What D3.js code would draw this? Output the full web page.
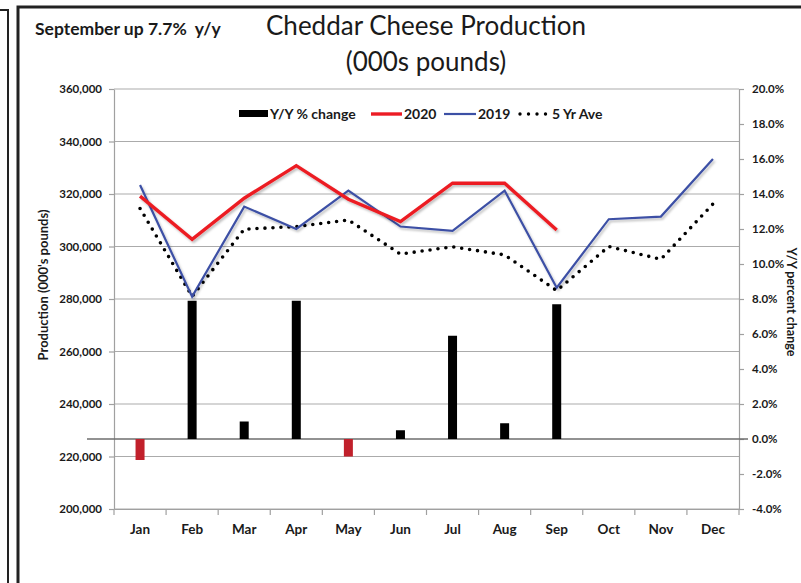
<!DOCTYPE html>
<html>
<head>
<meta charset="utf-8">
<script src="https://cdn.jsdelivr.net/npm/d3@7"></script>
<style>
  body { margin: 0; background: #fff; }
  text { font-family: Lato, 'Open Sans', sans-serif; fill: #1a1a1a; }
  .axis text { font-weight: bold; }
</style>
</head>
<body>
<div class="Chart"></div>
<script>
const months = ['Jan','Feb','Mar','Apr','May','Jun','Jul','Aug','Sep','Oct','Nov','Dec']
const yoyChange = [-1.2, 7.9, 1.0, 7.9, -1.0, 0.5, 5.9, 0.9, 7.7]
const prod2020 = [319200, 302700, 318400, 330800, 318000, 309500, 324100, 324100, 306300]
const prod2019 = [323400, 280900, 315200, 306700, 321300, 307600, 306000, 321300, 284300, 310400, 311400, 333300]
const fiveYrAve = [314500, 281000, 306600, 307600, 310100, 297100, 299900, 296800, 283200, 300000, 295100, 316200]
const leftTicks = [200000, 220000, 240000, 260000, 280000, 300000, 320000, 340000, 360000]
const rightTicks = [-4, -2, 0, 2, 4, 6, 8, 10, 12, 14, 16, 18, 20]

const W = 801, H = 583
const plot = ({left: 114, right: 739, top: 89, bottom: 509})

let svg = d3.select('.Chart').append('svg')
	.attr('width', W)
	.attr('height', H)

let defs = svg.append('defs')
defs.append('filter')
	.attr('id', 'shadow')
	.attr('x', '-10%').attr('y', '-10%').attr('width', '120%').attr('height', '130%')
	.append('feDropShadow')
	.attr('dx', 1.5).attr('dy', 2)
	.attr('stdDeviation', 1.2)
	.attr('flood-color', '#000')
	.attr('flood-opacity', 0.25)

// frame
svg.append('path')
	.attr('d', 'M0,10H8V583')
	.attr('fill', 'none')
	.attr('stroke', '#222')
	.attr('stroke-width', 2)
svg.append('path')
	.attr('d', 'M18,583V7H801')
	.attr('fill', 'none')
	.attr('stroke', '#222')
	.attr('stroke-width', 3)

let xScale = d3.scaleBand()
	.domain(months)
	.range([plot.left, plot.right])

let yLeft = d3.scaleLinear()
	.domain([200000, 360000])
	.range([plot.bottom, plot.top])

let yRight = d3.scaleLinear()
	.domain([-4, 20])
	.range([plot.bottom, plot.top])

// gridlines
svg.append('g')
	.selectAll('line')
	.data(leftTicks)
	.join('line')
	.attr('x1', plot.left)
	.attr('x2', plot.right)
	.attr('y1', d => yLeft(d))
	.attr('y2', d => yLeft(d))
	.attr('stroke', '#ababab')
	.attr('stroke-width', 1.2)

// axes
let leftAxis = svg.append('g')
	.attr('class', 'axis')
	.attr('transform', `translate(${plot.left},0)`)
	.call(d3.axisLeft(yLeft).tickValues(leftTicks).tickFormat(d3.format(',')).tickSize(5).tickPadding(7).tickSizeOuter(0))

let rightAxis = svg.append('g')
	.attr('class', 'axis')
	.attr('transform', `translate(${plot.right},0)`)
	.call(d3.axisRight(yRight).tickValues(rightTicks).tickFormat(d => d.toFixed(1) + '%').tickSize(5).tickPadding(8).tickSizeOuter(0))

let bottomAxis = svg.append('g')
	.attr('class', 'axis')
	.attr('transform', `translate(0,${plot.bottom})`)
	.call(d3.axisBottom(xScale).tickSize(0).tickPadding(15).tickSizeOuter(0))

bottomAxis.selectAll('.tick text').style('font-size', '13.5px')
leftAxis.selectAll('.tick text').style('font-size', '11.5px')
rightAxis.selectAll('.tick text').style('font-size', '11.5px')

svg.selectAll('.axis path, .axis line')
	.attr('stroke', '#a0a0a0')
	.attr('stroke-width', 1.2)
svg.selectAll('.axis').attr('font-family', null)

// category boundary ticks
svg.append('g')
	.selectAll('line')
	.data(d3.range(months.length + 1))
	.join('line')
	.attr('x1', i => plot.left + i * xScale.step())
	.attr('x2', i => plot.left + i * xScale.step())
	.attr('y1', plot.bottom)
	.attr('y2', plot.bottom + 6)
	.attr('stroke', '#a0a0a0')
	.attr('stroke-width', 1.2)

// zero line of the percent axis
svg.append('line')
	.attr('x1', 87)
	.attr('x2', 748)
	.attr('y1', yRight(0))
	.attr('y2', yRight(0))
	.attr('stroke', '#6e6e6e')
	.attr('stroke-width', 1.3)

// bars
const barW = 9
svg.append('g')
	.selectAll('rect')
	.data(yoyChange)
	.join('rect')
	.attr('x', (d, i) => xScale(months[i]) + xScale.bandwidth() / 2 - barW / 2)
	.attr('y', d => yRight(Math.max(d, 0)))
	.attr('width', barW)
	.attr('height', d => Math.abs(yRight(d) - yRight(0)))
	.attr('fill', d => d < 0 ? '#c1202b' : '#000')

// lines
let line = d3.line()
	.x((d, i) => xScale(months[i]) + xScale.bandwidth() / 2)
	.y(d => yLeft(d))

svg.append('path')
	.datum(fiveYrAve)
	.attr('d', line)
	.attr('fill', 'none')
	.attr('stroke', '#000')
	.attr('stroke-width', 3.6)
	.attr('stroke-linecap', 'round')
	.attr('stroke-dasharray', '0,8')

svg.append('path')
	.datum(prod2019)
	.attr('d', line)
	.attr('fill', 'none')
	.attr('stroke', '#3c50a5')
	.attr('stroke-width', 2.2)
	.attr('filter', 'url(#shadow)')

svg.append('path')
	.datum(prod2020)
	.attr('d', line)
	.attr('fill', 'none')
	.attr('stroke', '#ec1c24')
	.attr('stroke-width', 3.4)
	.attr('filter', 'url(#shadow)')

// legend
let legend = svg.append('g')
	.attr('transform', 'translate(0,114)')
	.style('font-size', '14px')
	.style('font-weight', 'bold')

legend.append('rect').attr('x', 239).attr('y', -4).attr('width', 29).attr('height', 7).attr('fill', '#000')
legend.append('text').attr('x', 270).attr('y', 5).text('Y/Y % change')
legend.append('line').attr('x1', 371).attr('x2', 402).attr('y1', 0).attr('y2', 0).attr('stroke', '#ec1c24').attr('stroke-width', 3.4)
legend.append('text').attr('x', 404).attr('y', 5).text('2020')
legend.append('line').attr('x1', 444).attr('x2', 476).attr('y1', 0).attr('y2', 0).attr('stroke', '#3c50a5').attr('stroke-width', 2.2)
legend.append('text').attr('x', 478).attr('y', 5).text('2019')
legend.append('line').attr('x1', 520).attr('x2', 546).attr('y1', 0).attr('y2', 0)
	.attr('stroke', '#000').attr('stroke-width', 3.4).attr('stroke-linecap', 'round').attr('stroke-dasharray', '0,8.5')
legend.append('text').attr('x', 552).attr('y', 5).text('5 Yr Ave')

// titles
svg.append('text')
	.attr('x', 426)
	.attr('y', 35)
	.attr('text-anchor', 'middle')
	.style('font-size', '26px')
	.text('Cheddar Cheese Production')

svg.append('text')
	.attr('x', 426)
	.attr('y', 71)
	.attr('text-anchor', 'middle')
	.style('font-size', '26px')
	.text('(000s pounds)')

svg.append('text')
	.attr('x', 35)
	.attr('y', 35)
	.style('font-size', '17.5px')
	.style('font-weight', 'bold')
	.style('white-space', 'pre')
	.text('September up 7.7%  y/y')

svg.append('text')
	.attr('transform', 'translate(48,285) rotate(-90)')
	.attr('text-anchor', 'middle')
	.style('font-size', '13px')
	.style('font-weight', 'bold')
	.text("Production (000's pounds)")

svg.append('text')
	.attr('transform', 'translate(787,302) rotate(90)')
	.attr('text-anchor', 'middle')
	.style('font-size', '12.5px')
	.style('font-weight', 'bold')
	.text('Y/Y percent change')
</script>
</body>
</html>
